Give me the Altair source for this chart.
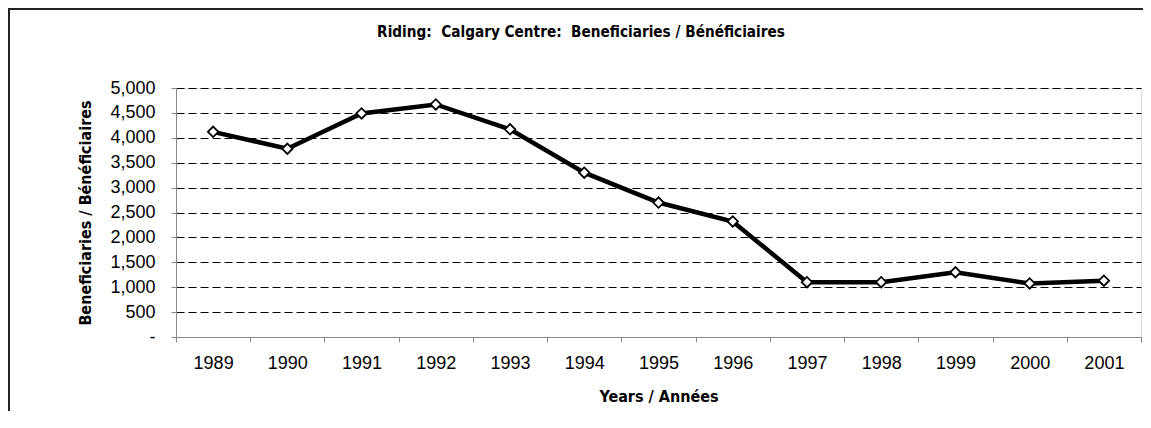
import altair as alt
import pandas as pd

years = ["1989", "1990", "1991", "1992", "1993", "1994", "1995",
         "1996", "1997", "1998", "1999", "2000", "2001"]
beneficiaries = [4120, 3780, 4490, 4670, 4170, 3300, 2700,
                 2320, 1100, 1100, 1300, 1075, 1130]
y_ticks = [0, 500, 1000, 1500, 2000, 2500, 3000, 3500, 4000, 4500, 5000]

title_text = "Riding:\u00a0 Calgary Centre:\u00a0 Beneficiaries / Bénéficiaires"
x_title = "Years / Années"
y_title = "Beneficiaries / Bénéficiaires"

df = pd.DataFrame({"year": years, "value": beneficiaries})

W, H = 965, 249
PAD_L, PAD_T, PAD_R, PAD_B = 168, 80, 2, 74

narrow = "DejaVu Sans Condensed"
regular = "Liberation Sans"

x_enc = alt.X(
    "year:N",
    sort=years,
    scale=alt.Scale(paddingInner=0, paddingOuter=0),
    axis=alt.Axis(
        title=x_title,
        labelAngle=0,
        tickBand="extent",
        tickSize=5,
        labelPadding=12,
        labelFont=regular,
        labelFontSize=18,
        labelColor="#000",
        titleFont=narrow,
        titleFontSize=16,
        titleFontWeight="bold",
        titleColor="#000",
        titleBaseline="alphabetic",
        titleY=64,
        grid=False,
    ),
)
y_enc = alt.Y(
    "value:Q",
    scale=alt.Scale(domain=[0, 5000], nice=False),
    axis=alt.Axis(
        title=y_title,
        values=y_ticks,
        labelExpr="datum.value == 0 ? '-' : format(datum.value, ',')",
        tickSize=5,
        labelPadding=16,
        labelFont=regular,
        labelFontSize=18,
        labelColor="#000",
        titleFont=narrow,
        titleFontSize=16,
        titleFontWeight="bold",
        titleColor="#000",
        titleX=-91,
        titleY=H / 2,
        titleAngle=270,
        titleAlign="center",
        titleBaseline="middle",
        grid=True,
        gridColor="#000",
        gridDash=[8, 4],
        gridWidth=1,
        gridOpacity=1,
    ),
)

line = alt.Chart(df).mark_line(color="#000", strokeWidth=4.5).encode(x=x_enc, y=y_enc)
points = alt.Chart(df).mark_point(
    shape="diamond", size=110, fill="white", fillOpacity=1,
    stroke="#000", strokeWidth=1.8, opacity=1
).encode(x=x_enc, y=y_enc)

frame_df = pd.DataFrame({"label": [title_text]})
left_border = alt.Chart(frame_df).mark_rule(color="#222", strokeWidth=2).encode(
    x=alt.value(-167), y=alt.value(-80), y2=alt.value(H + PAD_B)
)
top_border = alt.Chart(frame_df).mark_rule(color="#222", strokeWidth=2).encode(
    x=alt.value(-168), x2=alt.value(W + PAD_R), y=alt.value(-79)
)
title_mark = alt.Chart(frame_df).mark_text(
    font=narrow, fontSize=15.2, fontWeight="bold", color="#000",
    align="center", baseline="alphabetic"
).encode(text="label:N", x=alt.value(405), y=alt.value(-51))

chart = alt.layer(left_border, top_border, title_mark, line, points).properties(
    width=W,
    height=H,
    autosize=alt.AutoSizeParams(type="none"),
    padding={"left": PAD_L, "top": PAD_T, "right": PAD_R, "bottom": PAD_B},
).configure_view(
    stroke="#000", strokeWidth=1
).configure_axis(
    domainColor="#000", tickColor="#000", domainWidth=1
).configure(background="white")

chart.save("out.html", embed_options={"renderer": "svg", "actions": False})
